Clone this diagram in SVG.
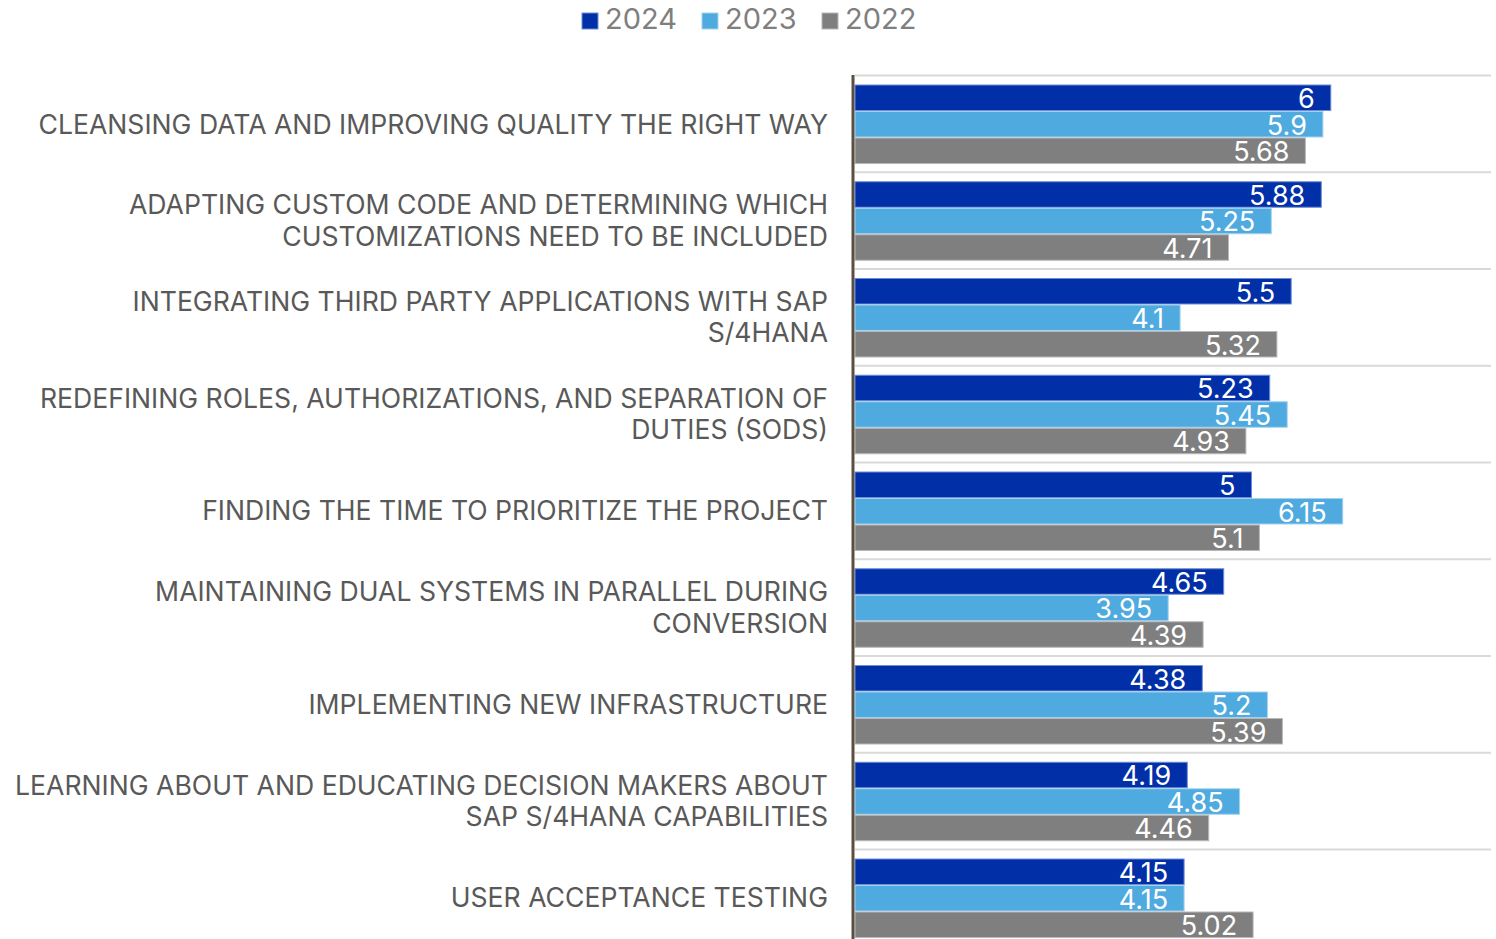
<svg xmlns="http://www.w3.org/2000/svg" width="1496" height="939" viewBox="0 0 1496 939">
<style>
.cat{font-family:Inter,"Liberation Sans",sans-serif;font-size:26.6px;fill:#595959;text-anchor:end}
.val{font-family:Inter,"Liberation Sans",sans-serif;font-size:27px;fill:#ffffff;text-anchor:end}
.leg{font-family:Inter,"Liberation Sans",sans-serif;font-size:29px;fill:#7f7f7f}
.grid{stroke:#d9d9d9;stroke-width:2}
.b24{fill:#002fa8;stroke:#6f8cd6;stroke-width:1}
.b23{fill:#4faae0;stroke:#a3d2ef;stroke-width:1}
.b22{fill:#7f7f7f;stroke:#b8b8b8;stroke-width:1}
</style>
<rect width="1496" height="939" fill="#ffffff"/>
<g id="legend">
<rect x="582" y="13" width="16" height="16" class="b24"/>
<text x="605" y="29" class="leg">2024</text>
<rect x="702" y="13" width="16" height="16" class="b23"/>
<text x="725" y="29" class="leg">2023</text>
<rect x="822" y="13" width="16" height="16" class="b22"/>
<text x="845" y="29" class="leg">2022</text>
</g>
<g id="gridlines">
<line x1="855" y1="75.5" x2="1491" y2="75.5" class="grid"/>
<line x1="855" y1="172.25" x2="1491" y2="172.25" class="grid"/>
<line x1="855" y1="269" x2="1491" y2="269" class="grid"/>
<line x1="855" y1="365.75" x2="1491" y2="365.75" class="grid"/>
<line x1="855" y1="462.5" x2="1491" y2="462.5" class="grid"/>
<line x1="855" y1="559.25" x2="1491" y2="559.25" class="grid"/>
<line x1="855" y1="656" x2="1491" y2="656" class="grid"/>
<line x1="855" y1="752.75" x2="1491" y2="752.75" class="grid"/>
<line x1="855" y1="849.5" x2="1491" y2="849.5" class="grid"/>
</g>
<g id="cat1">
<text x="828" y="133.6" class="cat">CLEANSING DATA AND IMPROVING QUALITY THE RIGHT WAY</text>
<rect x="855" y="85" width="475.8" height="25.5" class="b24"/><text x="1314.8" y="108" class="val">6</text>
<rect x="855" y="111.5" width="467.9" height="25.5" class="b23"/><text x="1306.9" y="134.5" class="val">5.9</text>
<rect x="855" y="138" width="450.4" height="25.5" class="b22"/><text x="1289.4" y="161" class="val">5.68</text>
</g>
<g id="cat2">
<text x="828" y="214.1" class="cat">ADAPTING CUSTOM CODE AND DETERMINING WHICH</text>
<text x="828" y="245.6" class="cat">CUSTOMIZATIONS NEED TO BE INCLUDED</text>
<rect x="855" y="181.75" width="466.3" height="25.5" class="b24"/><text x="1305.3" y="204.75" class="val">5.88</text>
<rect x="855" y="208.25" width="416.3" height="25.5" class="b23"/><text x="1255.3" y="231.25" class="val">5.25</text>
<rect x="855" y="234.75" width="373.5" height="25.5" class="b22"/><text x="1212.5" y="257.75" class="val">4.71</text>
</g>
<g id="cat3">
<text x="828" y="310.9" class="cat">INTEGRATING THIRD PARTY APPLICATIONS WITH SAP</text>
<text x="828" y="342.4" class="cat">S/4HANA</text>
<rect x="855" y="278.5" width="436.2" height="25.5" class="b24"/><text x="1275.2" y="301.5" class="val">5.5</text>
<rect x="855" y="305" width="325.1" height="25.5" class="b23"/><text x="1164.1" y="328" class="val">4.1</text>
<rect x="855" y="331.5" width="421.9" height="25.5" class="b22"/><text x="1260.9" y="354.5" class="val">5.32</text>
</g>
<g id="cat4">
<text x="828" y="407.6" class="cat">REDEFINING ROLES, AUTHORIZATIONS, AND SEPARATION OF</text>
<text x="828" y="439.1" class="cat">DUTIES (SODS)</text>
<rect x="855" y="375.25" width="414.7" height="25.5" class="b24"/><text x="1253.7" y="398.25" class="val">5.23</text>
<rect x="855" y="401.75" width="432.2" height="25.5" class="b23"/><text x="1271.2" y="424.75" class="val">5.45</text>
<rect x="855" y="428.25" width="390.9" height="25.5" class="b22"/><text x="1229.9" y="451.25" class="val">4.93</text>
</g>
<g id="cat5">
<text x="828" y="520.4" class="cat">FINDING THE TIME TO PRIORITIZE THE PROJECT</text>
<rect x="855" y="472" width="396.5" height="25.5" class="b24"/><text x="1235.5" y="495" class="val">5</text>
<rect x="855" y="498.5" width="487.7" height="25.5" class="b23"/><text x="1326.7" y="521.5" class="val">6.15</text>
<rect x="855" y="525" width="404.4" height="25.5" class="b22"/><text x="1243.4" y="548" class="val">5.1</text>
</g>
<g id="cat6">
<text x="828" y="601.1" class="cat">MAINTAINING DUAL SYSTEMS IN PARALLEL DURING</text>
<text x="828" y="632.6" class="cat">CONVERSION</text>
<rect x="855" y="568.75" width="368.7" height="25.5" class="b24"/><text x="1207.7" y="591.75" class="val">4.65</text>
<rect x="855" y="595.25" width="313.2" height="25.5" class="b23"/><text x="1152.2" y="618.25" class="val">3.95</text>
<rect x="855" y="621.75" width="348.1" height="25.5" class="b22"/><text x="1187.1" y="644.75" class="val">4.39</text>
</g>
<g id="cat7">
<text x="828" y="713.9" class="cat">IMPLEMENTING NEW INFRASTRUCTURE</text>
<rect x="855" y="665.5" width="347.3" height="25.5" class="b24"/><text x="1186.3" y="688.5" class="val">4.38</text>
<rect x="855" y="692" width="412.4" height="25.5" class="b23"/><text x="1251.4" y="715" class="val">5.2</text>
<rect x="855" y="718.5" width="427.4" height="25.5" class="b22"/><text x="1266.4" y="741.5" class="val">5.39</text>
</g>
<g id="cat8">
<text x="828" y="794.6" class="cat">LEARNING ABOUT AND EDUCATING DECISION MAKERS ABOUT</text>
<text x="828" y="826.1" class="cat">SAP S/4HANA CAPABILITIES</text>
<rect x="855" y="762.25" width="332.3" height="25.5" class="b24"/><text x="1171.3" y="785.25" class="val">4.19</text>
<rect x="855" y="788.75" width="384.6" height="25.5" class="b23"/><text x="1223.6" y="811.75" class="val">4.85</text>
<rect x="855" y="815.25" width="353.7" height="25.5" class="b22"/><text x="1192.7" y="838.25" class="val">4.46</text>
</g>
<g id="cat9">
<text x="828" y="907.4" class="cat">USER ACCEPTANCE TESTING</text>
<rect x="855" y="859" width="329.1" height="25.5" class="b24"/><text x="1168.1" y="882" class="val">4.15</text>
<rect x="855" y="885.5" width="329.1" height="25.5" class="b23"/><text x="1168.1" y="908.5" class="val">4.15</text>
<rect x="855" y="912" width="398.1" height="25.5" class="b22"/><text x="1237.1" y="934.5" class="val">5.02</text>
</g>
<g id="axis">
<line x1="853" y1="75" x2="853" y2="939" stroke="#594f43" stroke-width="3"/>
</g>
</svg>
